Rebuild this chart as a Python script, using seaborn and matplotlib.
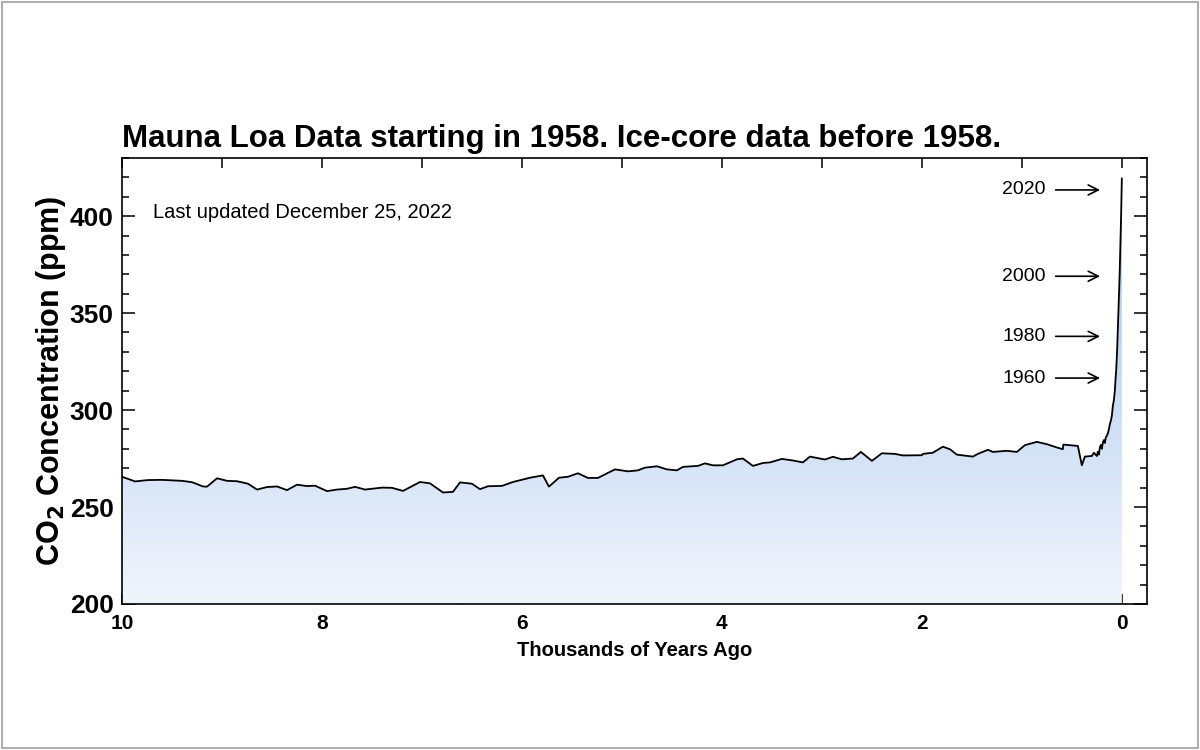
import numpy as np
import pandas as pd
import matplotlib
matplotlib.use("Agg")
import matplotlib.pyplot as plt
import seaborn as sns
from matplotlib.colors import LinearSegmentedColormap
from matplotlib.patches import Rectangle
from matplotlib.ticker import MultipleLocator

# ice core record, thousands of years ago
ice_years = [10.0, 9.87, 9.74, 9.60, 9.40, 9.30, 9.19, 9.15, 9.05, 8.95, 8.85, 8.74,
             8.65, 8.55, 8.45, 8.35, 8.25, 8.15, 8.07, 7.95, 7.85, 7.75, 7.67, 7.57,
             7.40, 7.30, 7.19, 7.02, 6.92, 6.79, 6.69, 6.62, 6.50, 6.42, 6.34, 6.20,
             6.09, 5.92, 5.79, 5.73, 5.63, 5.54, 5.44, 5.34, 5.24, 5.07, 4.94, 4.84,
             4.77, 4.65, 4.55, 4.45, 4.39, 4.24, 4.17, 4.09, 3.99, 3.85, 3.79, 3.69,
             3.59, 3.52, 3.40, 3.29, 3.19, 3.12, 2.97, 2.89, 2.80, 2.69, 2.61, 2.50,
             2.40, 2.27, 2.19, 2.00, 1.99, 1.89, 1.79, 1.72, 1.65, 1.49, 1.44, 1.34,
             1.29, 1.15, 1.05, 0.97, 0.85, 0.75, 0.65, 0.59, 0.585, 0.44, 0.40, 0.37,
             0.30, 0.28, 0.25, 0.24, 0.23, 0.22, 0.21, 0.20, 0.19, 0.18, 0.17, 0.16,
             0.15, 0.14, 0.13, 0.12, 0.11, 0.10, 0.09, 0.08, 0.07]
ice_co2 = [265.6, 263.2, 263.9, 264.0, 263.5, 262.8, 260.6, 260.5, 264.8, 263.5, 263.3, 262.0,
           259.0, 260.3, 260.6, 258.7, 261.5, 260.8, 261.0, 258.2, 259.0, 259.4, 260.4, 259.0,
           260.0, 259.9, 258.3, 262.9, 262.2, 257.5, 257.8, 262.7, 262.0, 259.2, 260.7, 260.9,
           262.9, 265.1, 266.3, 260.5, 265.1, 265.6, 267.4, 265.0, 265.0, 269.4, 268.4, 268.9,
           270.3, 271.0, 269.4, 268.9, 270.7, 271.2, 272.5, 271.5, 271.5, 274.6, 275.0, 271.2,
           272.7, 273.0, 274.8, 274.0, 273.0, 276.0, 274.5, 275.9, 274.6, 275.0, 278.4, 273.8,
           277.7, 277.4, 276.6, 276.7, 277.4, 278.0, 281.1, 279.8, 277.0, 276.0, 277.4, 279.5,
           278.4, 279.0, 278.4, 281.9, 283.6, 282.4, 280.7, 279.8, 282.2, 281.5, 271.5, 276.0,
           276.3, 278.0, 276.3, 278.5, 277.0, 280.7, 282.0, 280.0, 283.2, 284.5, 283.0, 286.0,
           286.7, 288.0, 290.0, 292.7, 294.5, 297.0, 302.2, 305.0, 310.0]

# Mauna Loa record
ml_years = [0.064, 0.062, 0.057, 0.052, 0.047, 0.042, 0.037, 0.032, 0.027, 0.022,
            0.017, 0.012, 0.007, 0.002, 0.0]
ml_co2 = [315.3, 316.9, 320.0, 325.7, 331.1, 338.8, 346.4, 354.4, 360.8, 369.7,
          379.8, 389.9, 401.0, 414.2, 419.5]

arrow_years = ["2020", "2000", "1980", "1960"]
arrow_co2 = [413.5, 369.0, 338.0, 316.5]

df = pd.DataFrame({"kya": ice_years + ml_years, "co2": ice_co2 + ml_co2})

sns.set_style("ticks")
plt.rcParams["font.family"] = ["Liberation Sans", "DejaVu Sans"]
plt.rcParams.update({"text.color": "black", "axes.labelcolor": "black",
                     "xtick.color": "black", "ytick.color": "black"})

fig = plt.figure(figsize=(12, 7.5), dpi=100)
ax = fig.add_axes([0.1017, 0.1947, 0.854, 0.5947])

# gradient fill under the curve
poly = ax.fill_between(df["kya"], df["co2"], 200, color="none", lw=0)
cmap = LinearSegmentedColormap.from_list("co2fill", ["#f1f5fc", "#c9dbf4", "#a6c3ee"])
grad = np.linspace(0, 1, 256).reshape(-1, 1)
img = ax.imshow(grad, cmap=cmap, origin="lower", aspect="auto",
                extent=[10, 0, 200, 420], zorder=1)
img.set_clip_path(poly.get_paths()[0], transform=ax.transData)

sns.lineplot(data=df, x="kya", y="co2", sort=False, color="black", lw=1.3, ax=ax, zorder=3)

ax.set_xlim(10, -0.25)
ax.set_ylim(200, 430)
ax.xaxis.set_major_locator(MultipleLocator(2))
ax.xaxis.set_minor_locator(MultipleLocator(1))
ax.yaxis.set_major_locator(MultipleLocator(50))
ax.yaxis.set_minor_locator(MultipleLocator(10))
ax.tick_params(which="both", direction="in", top=True, right=True, width=1.1, color="black")
ax.tick_params(axis="y", which="major", length=9.5, pad=6, labelsize=19)
ax.tick_params(axis="y", which="minor", length=5)
ax.tick_params(axis="x", which="both", length=7, pad=7, labelsize=15)
for lab in ax.get_yticklabels() + ax.get_xticklabels():
    lab.set_fontweight("bold")
for sp in ax.spines.values():
    sp.set_linewidth(1.2)
    sp.set_color("black")

ax.set_xlabel("Thousands of Years Ago", fontsize=14.5, fontweight="bold", labelpad=6)
ax.set_ylabel("CO$_\\mathbf{2}$ Concentration (ppm)", fontsize=22, fontweight="bold", labelpad=1)
ax.set_title("Mauna Loa Data starting in 1958. Ice-core data before 1958.",
             loc="left", fontsize=22.5, fontweight="bold", pad=8)

ax.text(9.69, 402, "Last updated December 25, 2022", fontsize=14.5, va="center", ha="left")

for yr, v in zip(arrow_years, arrow_co2):
    ax.text(0.76, v, yr, fontsize=14, ha="right", va="center")
    ax.annotate("", xy=(0.19, v), xytext=(0.69, v),
                arrowprops=dict(arrowstyle="->", color="black", lw=1.2, mutation_scale=18))

# light grey frame around the figure
fig.patches.append(Rectangle((0.002, 0.003), 0.996, 0.994, transform=fig.transFigure,
                             fill=False, edgecolor="#b0b0b0", lw=1.5))

fig.savefig("out.png", dpi=100, facecolor="white")
